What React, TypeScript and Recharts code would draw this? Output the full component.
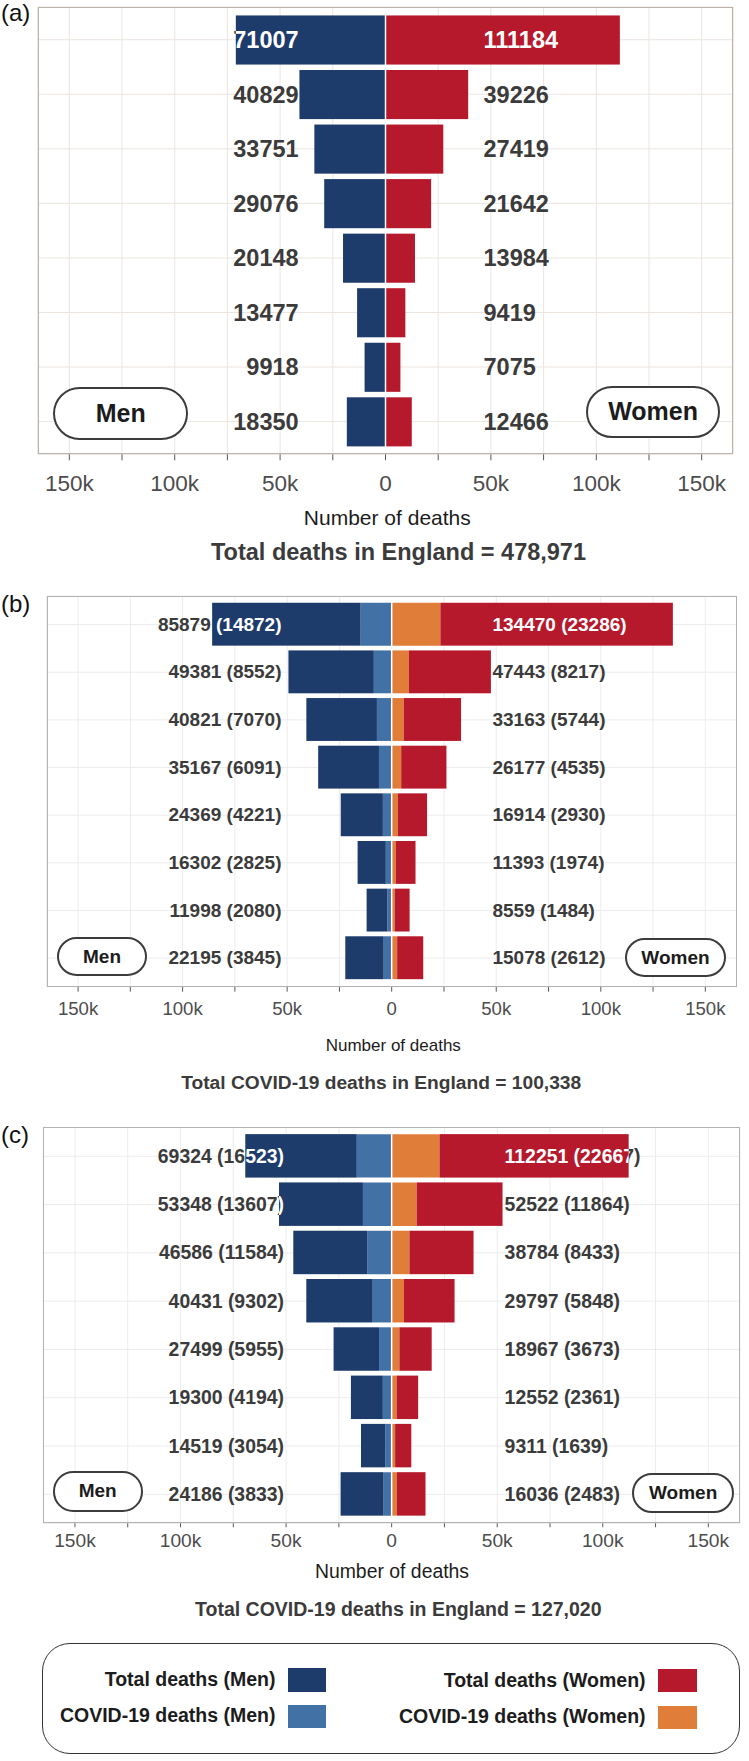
import React from 'react'
import { BarChart, Bar, XAxis, YAxis, CartesianGrid, ReferenceLine } from 'recharts'

const FONT = '"Liberation Sans", Arial, Helvetica, sans-serif'

const NAVY = '#1d3b6b'
const LIGHT_BLUE = '#4171a5'
const RED = '#b6192c'
const ORANGE = '#e07d38'

// eight rows, top to bottom (row labels are not printed in the figure)
const groups = ['g1', 'g2', 'g3', 'g4', 'g5', 'g6', 'g7', 'g8']

// (a) all deaths
const menTotalA = [71007, 40829, 33751, 29076, 20148, 13477, 9918, 18350]
const womenTotalA = [111184, 39226, 27419, 21642, 13984, 9419, 7075, 12466]

// (b) total deaths (COVID-19 deaths)
const menTotalB = [85879, 49381, 40821, 35167, 24369, 16302, 11998, 22195]
const menCovidB = [14872, 8552, 7070, 6091, 4221, 2825, 2080, 3845]
const womenTotalB = [134470, 47443, 33163, 26177, 16914, 11393, 8559, 15078]
const womenCovidB = [23286, 8217, 5744, 4535, 2930, 1974, 1484, 2612]

// (c) total deaths (COVID-19 deaths)
const menTotalC = [69324, 53348, 46586, 40431, 27499, 19300, 14519, 24186]
const menCovidC = [16523, 13607, 11584, 9302, 5955, 4194, 3054, 3833]
const womenTotalC = [112251, 52522, 38784, 29797, 18967, 12552, 9311, 16036]
const womenCovidC = [22667, 11864, 8433, 5848, 3673, 2361, 1639, 2483]

const xTicks = [-150000, -125000, -100000, -75000, -50000, -25000, 0, 25000, 50000, 75000, 100000, 125000, 150000]
const xDomain = [-165000, 165000]

type Row = {
  group: string
  menTotal: number
  menCovid: number
  womenTotal: number
  womenCovid: number
  menInner: number
  menOuter: number
  womenInner: number
  womenOuter: number
}

function buildRows(menTotal: number[], womenTotal: number[], menCovid?: number[], womenCovid?: number[]): Row[] {
  return groups.map((group, i) => {
    const mc = menCovid ? menCovid[i] : 0
    const wc = womenCovid ? womenCovid[i] : 0
    return {
      group,
      menTotal: menTotal[i],
      menCovid: mc,
      womenTotal: womenTotal[i],
      womenCovid: wc,
      menInner: -mc,
      menOuter: -(menTotal[i] - mc),
      womenInner: wc,
      womenOuter: womenTotal[i] - wc,
    }
  })
}

const rowsA = buildRows(menTotalA, womenTotalA)
const rowsB = buildRows(menTotalB, womenTotalB, menCovidB, womenCovidB)
const rowsC = buildRows(menTotalC, womenTotalC, menCovidC, womenCovidC)

const tickFormat = (v: number) => {
  if (v === 0) return '0'
  if (v % 50000 !== 0) return ''
  return `${Math.abs(v) / 1000}k`
}

// outer bar segment: draws the bar and the value label (white where it sits on the bar)
function makeOuterShape(id: string, side: 'men' | 'women', rows: Row[], withCovid: boolean, anchor: number, fontSize: number) {
  return function OuterShape(props: any) {
    const { x, y, width, height, index, fill } = props
    const row = rows[index]
    const left = Math.min(x, x + width)
    const right = Math.max(x, x + width)
    const w = right - left
    const total = side === 'men' ? row.menTotal : row.womenTotal
    const covid = side === 'men' ? row.menCovid : row.womenCovid
    const k = w / (total - covid)
    const zero = side === 'men' ? right + covid * k : left - covid * k
    const tx = zero + anchor * k
    const ty = y + height / 2
    const label = withCovid ? `${total} (${covid})` : `${total}`
    const clipId = `clip-${id}-${side}-${index}`
    const textProps = {
      x: tx,
      y: ty,
      textAnchor: side === 'men' ? 'end' : 'start',
      dominantBaseline: 'central',
      fontSize,
      fontWeight: 700,
      fontFamily: FONT,
    } as any
    return (
      <g>
        <defs>
          <clipPath id={clipId}>
            <rect x={left} y={y} width={w} height={height} />
          </clipPath>
        </defs>
        <text {...textProps} fill="#3b3b3b">{label}</text>
        <rect x={left} y={y} width={w} height={height} fill={fill} />
        <text {...textProps} fill="#ffffff" clipPath={`url(#${clipId})`}>{label}</text>
      </g>
    )
  }
}

type PanelCfg = {
  id: string
  top: number
  height: number
  margin: { top: number; right: number; bottom: number; left: number }
  axisHeight: number
  tickFont: number
  tickSize: number
  tickMargin: number
  rows: Row[]
  withCovid: boolean
  labelFont: number
  menAnchor: number
  womenAnchor: number
  gridColor: string
  borderColor: string
}

function Panel({ cfg }: { cfg: PanelCfg }) {
  const W = 749
  const plotH = cfg.height - cfg.margin.top - cfg.margin.bottom - cfg.axisHeight
  const plotW = W - cfg.margin.left - cfg.margin.right
  const unit = plotH / 8.2
  const pad = unit * 0.1
  const barSize = unit * 0.9
  return (
    <>
      <div style={{ position: 'absolute', left: 0, top: cfg.top }}>
        <BarChart
          width={W}
          height={cfg.height}
          data={cfg.rows}
          layout="vertical"
          stackOffset="sign"
          margin={cfg.margin}
          barSize={barSize}
        >
          <CartesianGrid stroke={cfg.gridColor} strokeWidth={1} />
          <XAxis
            type="number"
            domain={xDomain}
            ticks={xTicks}
            interval={0}
            tickFormatter={tickFormat}
            axisLine={false}
            tickSize={cfg.tickSize}
            tickMargin={cfg.tickMargin}
            height={cfg.axisHeight}
            tickLine={{ stroke: '#5a5a5a' }}
            tick={{ fontSize: cfg.tickFont, fill: '#4d4d4d', fontFamily: FONT }}
          />
          <YAxis type="category" dataKey="group" hide padding={{ top: pad, bottom: pad }} />
          {cfg.withCovid && (
            <Bar dataKey="menInner" stackId="s" fill={LIGHT_BLUE} isAnimationActive={false} />
          )}
          <Bar
            dataKey="menOuter"
            stackId="s"
            fill={NAVY}
            isAnimationActive={false}
            shape={makeOuterShape(cfg.id, 'men', cfg.rows, cfg.withCovid, cfg.menAnchor, cfg.labelFont)}
          />
          {cfg.withCovid && (
            <Bar dataKey="womenInner" stackId="s" fill={ORANGE} isAnimationActive={false} />
          )}
          <Bar
            dataKey="womenOuter"
            stackId="s"
            fill={RED}
            isAnimationActive={false}
            shape={makeOuterShape(cfg.id, 'women', cfg.rows, cfg.withCovid, cfg.womenAnchor, cfg.labelFont)}
          />
          <ReferenceLine x={0} stroke="#ffffff" strokeWidth={1.5} />
        </BarChart>
      </div>
      <div
        style={{
          position: 'absolute',
          left: cfg.margin.left,
          top: cfg.top + cfg.margin.top,
          width: plotW,
          height: plotH,
          border: `1.2px solid ${cfg.borderColor}`,
          boxSizing: 'border-box',
          pointerEvents: 'none',
        }}
      />
    </>
  )
}

function CenterText({ x, y, size, bold, color, children }: any) {
  return (
    <div
      style={{
        position: 'absolute',
        left: x,
        top: y,
        transform: 'translate(-50%, -50%)',
        fontSize: size,
        fontWeight: bold ? 700 : 400,
        color,
        lineHeight: 1,
        whiteSpace: 'nowrap',
        fontFamily: FONT,
      }}
    >
      {children}
    </div>
  )
}

function Pill({ left, top, width, height, size, text }: any) {
  return (
    <div
      style={{
        position: 'absolute',
        left,
        top,
        width,
        height,
        boxSizing: 'border-box',
        border: '2px solid #3c3c3c',
        borderRadius: height / 2,
        background: '#ffffff',
        display: 'flex',
        alignItems: 'center',
        justifyContent: 'center',
        fontSize: size,
        fontWeight: 700,
        color: '#1c1c1c',
        fontFamily: FONT,
      }}
    >
      {text}
    </div>
  )
}

function PanelTag({ y, text }: any) {
  return (
    <div
      style={{
        position: 'absolute',
        left: 1,
        top: y,
        transform: 'translateY(-50%)',
        fontSize: 24,
        lineHeight: 1,
        color: '#111',
        fontFamily: FONT,
      }}
    >
      {text}
    </div>
  )
}

function LegendItem({ textRight, y, swatchX, swatchY, swatchW, swatchH, color, text }: any) {
  return (
    <>
      <div
        style={{
          position: 'absolute',
          left: 0,
          width: textRight,
          top: y,
          transform: 'translateY(-50%)',
          textAlign: 'right',
          fontSize: 19.5,
          fontWeight: 700,
          lineHeight: 1,
          color: '#1c1c1c',
          whiteSpace: 'nowrap',
          fontFamily: FONT,
        }}
      >
        {text}
      </div>
      <div style={{ position: 'absolute', left: swatchX, top: swatchY, width: swatchW, height: swatchH, background: color }} />
    </>
  )
}

const panelA: PanelCfg = {
  id: 'a',
  top: 0,
  height: 510,
  margin: { top: 7, right: 15.7, bottom: 5.7, left: 37.7 },
  axisHeight: 50,
  tickFont: 22.5,
  tickSize: 6,
  tickMargin: 15,
  rows: rowsA,
  withCovid: false,
  labelFont: 23.5,
  menAnchor: -41200,
  womenAnchor: 46500,
  gridColor: '#ece5df',
  borderColor: '#bcb2ac',
}

const panelB: PanelCfg = {
  id: 'b',
  top: 590,
  height: 440,
  margin: { top: 6, right: 12.3, bottom: 3.3, left: 46.7 },
  axisHeight: 40,
  tickFont: 18.6,
  tickSize: 5,
  tickMargin: 10,
  rows: rowsB,
  withCovid: true,
  labelFont: 19,
  menAnchor: -52700,
  womenAnchor: 48200,
  gridColor: '#ececec',
  borderColor: '#b2b2b2',
}

const panelC: PanelCfg = {
  id: 'c',
  top: 1120,
  height: 446,
  margin: { top: 7.3, right: 9, bottom: 2.7, left: 43.3 },
  axisHeight: 40,
  tickFont: 19.2,
  tickSize: 4,
  tickMargin: 6,
  rows: rowsC,
  withCovid: true,
  labelFont: 19.4,
  menAnchor: -51000,
  womenAnchor: 53500,
  gridColor: '#ececec',
  borderColor: '#b2b2b2',
}

export default function App() {
  return (
    <div style={{ position: 'absolute', left: 0, top: 0, width: 749, height: 1761, background: '#ffffff', overflow: 'hidden', fontFamily: FONT }}>
      <Panel cfg={panelA} />
      <Pill left={53.3} top={386.7} width={135} height={53.3} size={25} text="Men" />
      <Pill left={586.4} top={385.7} width={133.3} height={52.5} size={25} text="Women" />
      <PanelTag y={13} text="(a)" />
      <CenterText x={387.3} y={516.7} size={21} color="#1c1c1c">Number of deaths</CenterText>
      <CenterText x={398.5} y={553} size={23.5} bold color="#3b3b3b">Total deaths in England = 478,971</CenterText>

      <Panel cfg={panelB} />
      <Pill left={57.3} top={937} width={89.4} height={39} size={19} text="Men" />
      <Pill left={624.7} top={938} width={101.6} height={39} size={19} text="Women" />
      <PanelTag y={604} text="(b)" />
      <CenterText x={393.3} y={1045} size={17} color="#1c1c1c">Number of deaths</CenterText>
      <CenterText x={381.2} y={1083.3} size={19.2} bold color="#3b3b3b">Total COVID-19 deaths in England = 100,338</CenterText>

      <Panel cfg={panelC} />
      <Pill left={52.7} top={1471} width={90} height={40.7} size={19} text="Men" />
      <Pill left={632.3} top={1472.8} width={101.7} height={40.5} size={19} text="Women" />
      <PanelTag y={1135} text="(c)" />
      <CenterText x={392} y={1571.7} size={19.4} color="#1c1c1c">Number of deaths</CenterText>
      <CenterText x={398.3} y={1610} size={19.5} bold color="#3b3b3b">Total COVID-19 deaths in England = 127,020</CenterText>

      <div
        style={{
          position: 'absolute',
          left: 42,
          top: 1643,
          width: 698,
          height: 111,
          boxSizing: 'border-box',
          border: '1.5px solid #333',
          borderRadius: 28,
        }}
      />
      <LegendItem textRight={275.5} y={1680} swatchX={287.5} swatchY={1668.3} swatchW={38.7} swatchH={23.4} color={NAVY} text="Total deaths (Men)" />
      <LegendItem textRight={275.5} y={1716.3} swatchX={287.5} swatchY={1705} swatchW={38.7} swatchH={22.7} color={LIGHT_BLUE} text="COVID-19 deaths (Men)" />
      <LegendItem textRight={645.6} y={1680.8} swatchX={658} swatchY={1669.3} swatchW={39.2} swatchH={23} color={RED} text="Total deaths (Women)" />
      <LegendItem textRight={645.6} y={1717} swatchX={658} swatchY={1706} swatchW={39.2} swatchH={23.3} color={ORANGE} text="COVID-19 deaths (Women)" />
    </div>
  )
}
